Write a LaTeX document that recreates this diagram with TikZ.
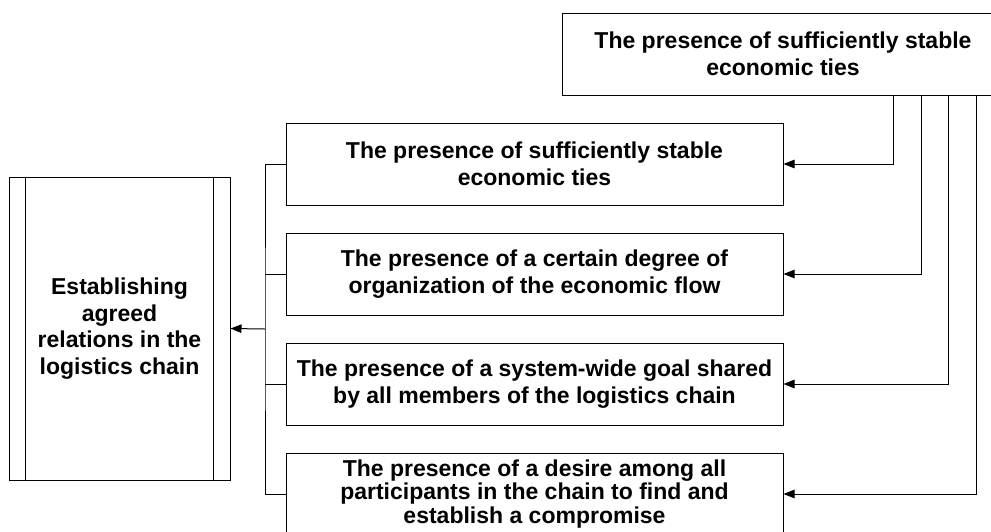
\documentclass[tikz,border=0pt]{standalone}
\usepackage{fontspec}
\setmainfont{Liberation Sans}
\usetikzlibrary{arrows.meta}

\tikzset{
  box/.style={draw, line width=1pt, align=center, inner sep=0pt,
    font=\bfseries\fontsize{23}{26.5}\selectfont},
  cond/.style={box, minimum width=497pt, minimum height=82pt},
  feed/.style={line width=1pt, -{Triangle[length=11pt,width=8.5pt]}},
}

\begin{document}
\begin{tikzpicture}[x=1pt,y=-1pt]
        \useasboundingbox (0,0) rectangle (991,531);

        % left block
        \node[box, minimum width=221pt, minimum height=303pt] (goal) at (119.5,328.5)
            {Establishing\\agreed\\relations in the\\logistics chain};
        \draw[line width=1pt] ([xshift=17pt]goal.north west) -- ([xshift=17pt]goal.south west);
        \draw[line width=1pt] ([xshift=-17pt]goal.north east) -- ([xshift=-17pt]goal.south east);

        \node[box, minimum width=442pt, minimum height=82pt] (ties) at (783,54)
            {The presence of sufficiently stable\\economic ties};

        \node[cond] (c1) at (534.5,164) {The presence of sufficiently stable\\economic ties};
        \node[cond] (c2) at (534.5,274) {The presence of a certain degree of\\organization of the economic flow};
        \node[cond] (c3) at (534.5,384) {The presence of a system-wide goal shared\\by all members of the logistics chain};
        \node[cond, font=\bfseries\fontsize{23}{23.5}\selectfont] (c4) at (534.5,494)
            {The presence of a desire among all\\participants in the chain to find and\\establish a compromise};

        % bus on the left
        \coordinate (bus) at (265,329);
        \draw[line width=1pt] (c1.west) -| (bus) |- (c4.west);
        \draw[line width=1pt] (c2.west) -- (c2.west -| bus);
        \draw[line width=1pt] (c3.west) -- (c3.west -| bus);
        \draw[feed] (bus) -- (goal.east);

        % lines from the top block
        \foreach \i/\x in {1/893, 2/921, 3/948, 4/976}
            \draw[feed] (ties.south -| \x,0) |- (c\i.east);
    \end{tikzpicture}
\end{document}
